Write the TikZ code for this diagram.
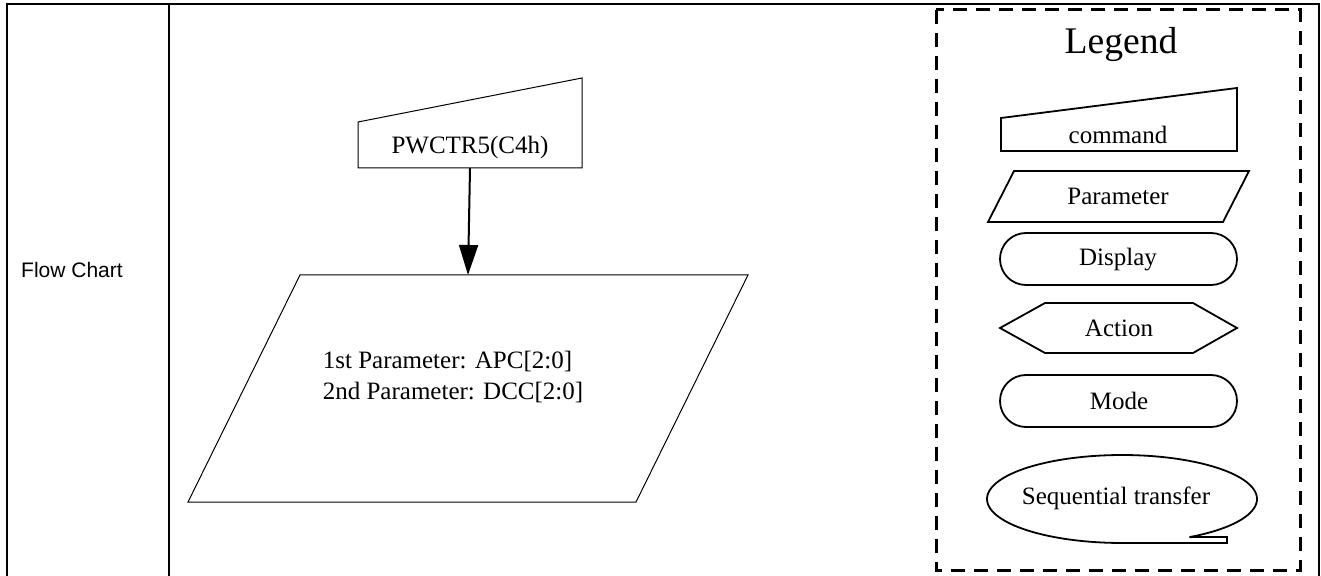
\documentclass[tikz,border=0pt]{standalone}
\usepackage{fontspec}
\setmainfont{Liberation Serif}
\newfontfamily\arialfont{Liberation Sans}
\usetikzlibrary{arrows.meta}
\begin{document}
\begin{tikzpicture}[x=0.5pt,y=-0.5pt,
  frame/.style={line width=1.2pt},
  legendbox/.style={line width=1.5pt,dash pattern=on 7pt off 4.5pt},
  flowshape/.style={line width=0.5pt},
  legshape/.style={line width=0.9pt},
  txt/.style={inner sep=0pt,font=\fontsize{12.5}{15}\selectfont},
  conn/.style={line width=1pt,-{Triangle[length=15pt,width=9.5pt]}}]
\useasboundingbox (0,0) rectangle (1321,576);
% table frame
\draw[frame] (7,576) -- (7,4) -- (1319,4) -- (1319,576);
\draw[frame] (169,4) -- (169,576);
\node[inner sep=0pt,font=\arialfont\fontsize{10.5}{12}\selectfont] (fc) at (72,270) {Flow Chart};
% flow
\draw[flowshape] (358,122) -- (582,78) -- (582,168) -- (358,168) -- cycle;
\node[txt] (cmd) at (470,147) {PWCTR5(C4h)};
\coordinate (cmdbot) at (470,168);
\draw[flowshape] (300,275) -- (748,275) -- (636,502) -- (188,502) -- cycle;
\coordinate (partop) at (468,275);
\node[txt,align=left] (par) at (453,377) {1st Parameter: APC[2:0]\\2nd Parameter: DCC[2:0]};
\draw[conn] (cmdbot) -- (partop);
% legend
\draw[legendbox] (936,10) rectangle (1300,570);
\node[inner sep=0pt,font=\fontsize{18.8}{22}\selectfont] (leg) at (1121,45) {Legend};
\draw[legshape] (1001,118) -- (1237,88) -- (1237,151) -- (1001,151) -- cycle;
\node[txt] (lcmd) at (1118,135) {command};
\draw[legshape] (1014,171) -- (1249,171) -- (1223,222) -- (988,222) -- cycle;
\node[txt] (lpar) at (1118,196) {Parameter};
\draw[legshape,rounded corners=13pt] (1000,233) rectangle (1237,285);
\node[txt] (ldisp) at (1118,260) {Display};
\draw[legshape] (1000,328) -- (1045,303) -- (1193,303) -- (1237,328) -- (1193,353) -- (1045,353) -- cycle;
\node[txt] (lact) at (1119,328) {Action};
\draw[legshape,rounded corners=13pt] (1000,375) rectangle (1237,427);
\node[txt] (lmode) at (1119,401) {Mode};
\draw[legshape] plot[domain=-60:270,samples=120] ({1122+135*cos(\x)},{499-44*sin(\x)}) -- (1227,543) -- (1227,537) -- cycle;
\node[txt] (lseq) at (1116,498) {Sequential transfer};
\end{tikzpicture}
\end{document}
